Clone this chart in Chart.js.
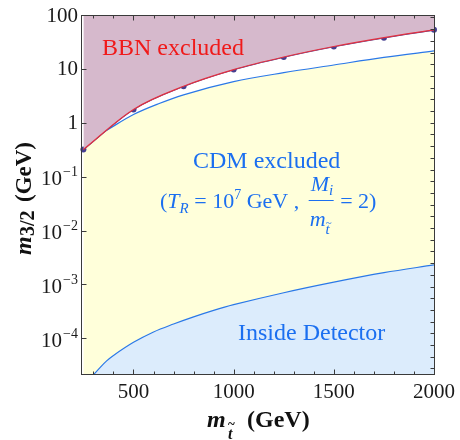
<!DOCTYPE html>
<html>
<head>
<meta charset="utf-8">
<script src="https://cdn.jsdelivr.net/npm/chart.js@4"></script>
<style>
  body { margin: 0; background: #fff; }
  canvas { display: block; }
</style>
</head>
<body>
<canvas id="chart" width="460" height="440"></canvas>
<script>
// BBN bound (dots on the curve)
const bbnMass = [250, 500, 750, 1000, 1250, 1500, 1750, 2000];
const bbnLimit = [0.32, 1.77, 4.75, 9.7, 16.6, 26, 38, 53];

// CDM bound (upper blue line)
const cdmMass = [250, 300, 375, 500, 625, 750, 1000, 1250, 1500, 1750, 2000];
const cdmLimit = [0.32, 0.52, 0.76, 1.42, 2.25, 3.3, 5.8, 8.5, 11.8, 16.3, 21.5];

// decay inside detector (lower blue line)
const detMass = [300, 333, 366, 400, 500, 600, 700, 800, 900, 1000, 1250, 1500, 1750, 2000];
const detLimit = [2.1e-5, 2.86e-5, 3.8e-5, 4.8e-5, 8.4e-5, 1.31e-4, 1.84e-4, 2.5e-4, 3.3e-4, 4.2e-4, 7.0e-4, 1.1e-3, 1.65e-3, 2.3e-3];

// axis ticks
const xTicks = [500, 1000, 1500, 2000];
const yTicks = [1e-4, 1e-3, 1e-2, 1e-1, 1, 10, 100];

const serif = "'Liberation Serif', 'Times New Roman', serif";
const blueText = '#1b6ff0';

function toPoints(xs, ys) {
  return xs.map((v, i) => ({ x: v, y: ys[i] }));
}

// draws a run of text pieces, returns end x
function run(ctx, pieces, x, y) {
  for (const p of pieces) {
    ctx.font = p.font;
    ctx.fillText(p.text, x + (p.dx || 0), y + (p.dy || 0));
    x += ctx.measureText(p.text).width + (p.dx || 0);
  }
  return x;
}

const frame = {
  id: 'frame',
  afterDraw(chart) {
    const { ctx, chartArea: a } = chart;
    const x = chart.scales.x, y = chart.scales.y;
    const L = a.left - 0.5, R = a.right + 0.5, T = a.top + 0.5, B = a.bottom - 0.5;
    ctx.save();
    ctx.strokeStyle = '#3a3a3a';
    ctx.lineWidth = 1;
    ctx.strokeRect(L, T, R - L, B - T);

    // x ticks (inward), top and bottom
    ctx.beginPath();
    for (let m = 300; m <= 2000; m += 100) {
      const px = Math.round(x.getPixelForValue(m)) + 0.5;
      const len = m % 500 === 0 ? 5 : 3;
      ctx.moveTo(px, B); ctx.lineTo(px, B - len);
      ctx.moveTo(px, T); ctx.lineTo(px, T + len);
    }
    // left ticks at decades
    for (const v of yTicks) {
      const py = Math.round(y.getPixelForValue(v)) + 0.5;
      ctx.moveTo(L, py); ctx.lineTo(L + 5, py);
    }
    // right ticks
    for (let k = -30; k <= 12; k++) {
      const v = Math.exp(k / 2);
      if (v < y.min || v > y.max) continue;
      const py = Math.round(y.getPixelForValue(v)) + 0.5;
      ctx.moveTo(R, py); ctx.lineTo(R - 4, py);
    }
    ctx.stroke();

    // y tick labels
    ctx.fillStyle = '#1a1a1a';
    ctx.textAlign = 'right';
    ctx.textBaseline = 'middle';
    for (const v of yTicks) {
      const py = y.getPixelForValue(v);
      if (v >= 1) {
        ctx.font = '21px ' + serif;
        ctx.fillText(String(v), 78, py + 1);
      } else {
        const e = Math.round(Math.log10(v));
        const sup = '\u2212' + (-e);
        ctx.font = '14px ' + serif;
        ctx.fillText(sup, 78, py - 4);
        const w = ctx.measureText(sup).width;
        ctx.font = '21px ' + serif;
        ctx.fillText('10', 78 - w - 1, py + 3);
      }
    }

    // axis titles
    ctx.textAlign = 'left';
    ctx.textBaseline = 'alphabetic';
    ctx.fillStyle = '#111';
    // x title
    ctx.font = 'bold italic 24px ' + serif;
    ctx.fillText('m', 207, 427);
    ctx.font = 'bold italic 16px ' + serif;
    ctx.fillText('t', 228, 439);
    ctx.font = 'bold 13px ' + serif;
    ctx.fillText('~', 228, 428);
    ctx.font = 'bold 24px ' + serif;
    ctx.fillText('(GeV)', 247, 427);
    // y title (rotated)
    ctx.save();
    ctx.translate(31, 255);
    ctx.rotate(-Math.PI / 2);
    ctx.font = 'bold italic 24px ' + serif;
    ctx.fillText('m', 0, 0);
    ctx.font = 'bold 20px ' + serif;
    ctx.fillText('3/2', 19, 3);
    ctx.font = 'bold 23px ' + serif;
    ctx.fillText('(GeV)', 53, 0);
    ctx.restore();

    // region labels
    ctx.fillStyle = '#f01a1a';
    ctx.font = '24px ' + serif;
    ctx.fillText('BBN excluded', 102, 55);

    ctx.fillStyle = blueText;
    ctx.fillText('CDM excluded', 193, 168);
    ctx.fillText('Inside Detector', 238, 340);

    const big = '22px ' + serif, bigI = 'italic 22px ' + serif;
    const sm = '14px ' + serif, smI = 'italic 15px ' + serif;
    let cx = run(ctx, [
      { text: '(', font: big },
      { text: 'T', font: bigI },
      { text: 'R', font: smI, dy: 5 },
      { text: ' = 10', font: big },
      { text: '7', font: sm, dy: -9 },
      { text: ' GeV , ', font: big }
    ], 160, 208);
    // fraction M_i / m_t
    const fx = cx + 4, fw = 25;
    ctx.fillRect(fx, 200, fw, 1);
    run(ctx, [
      { text: 'M', font: bigI },
      { text: 'i', font: smI, dy: 4 }
    ], fx + 2, 191);
    run(ctx, [
      { text: 'm', font: bigI },
      { text: 't', font: smI, dy: 8 }
    ], fx + 1, 226);
    ctx.font = '11px ' + serif;
    ctx.fillText('~', fx + 17, 226);
    run(ctx, [{ text: ' = 2)', font: big }], fx + fw + 1, 208);
    ctx.restore();
  }
};

new Chart(document.getElementById('chart'), {
  type: 'line',
  data: {
    datasets: [
      {
        label: 'BBN',
        data: toPoints(bbnMass, bbnLimit),
        borderColor: '#e23040',
        borderWidth: 1.2,
        backgroundColor: '#d6b9cc',
        fill: 'end',
        pointRadius: 0,
        cubicInterpolationMode: 'monotone',
        clip: 0,
        order: 1
      },
      {
        label: 'BBN points',
        data: toPoints(bbnMass, bbnLimit),
        borderColor: '#463f8f',
        borderWidth: 1.6,
        pointRadius: 3,
        pointBackgroundColor: '#463f8f',
        pointBorderWidth: 0,
        fill: false,
        cubicInterpolationMode: 'monotone',
        clip: 4,
        order: 2
      },
      {
        label: 'CDM',
        data: toPoints(cdmMass, cdmLimit),
        borderColor: '#2a78e8',
        borderWidth: 1.2,
        backgroundColor: '#ffffda',
        fill: 'start',
        pointRadius: 0,
        cubicInterpolationMode: 'monotone',
        clip: 0,
        order: 4
      },
      {
        label: 'Detector',
        data: toPoints(detMass, detLimit),
        borderColor: '#2a78e8',
        borderWidth: 1.2,
        backgroundColor: '#dcecfc',
        fill: 'start',
        pointRadius: 0,
        tension: 0.35,
        clip: 0,
        order: 3
      }
    ]
  },
  options: {
    responsive: false,
    animation: false,
    devicePixelRatio: 1,
    layout: { padding: { top: 15, right: 21, left: 0, bottom: 0 } },
    plugins: {
      legend: { display: false },
      tooltip: { enabled: false }
    },
    scales: {
      x: {
        type: 'linear',
        min: 243,
        max: 2000,
        grid: { display: false, drawTicks: false },
        border: { display: false },
        afterBuildTicks: (s) => { s.ticks = xTicks.map(v => ({ value: v })); },
        afterFit: (s) => { s.height = 65; },
        ticks: {
          padding: 5,
          color: '#1a1a1a',
          font: { family: serif, size: 21 },
          maxRotation: 0,
          callback: (v) => String(v)
        }
      },
      y: {
        type: 'logarithmic',
        min: 2.08e-5,
        max: 100,
        grid: { display: false, drawTicks: false },
        border: { display: false },
        afterBuildTicks: (s) => { s.ticks = yTicks.map(v => ({ value: v })); },
        afterFit: (s) => { s.width = 82; },
        ticks: { display: false }
      }
    }
  },
  plugins: [frame]
});
</script>
</body>
</html>
